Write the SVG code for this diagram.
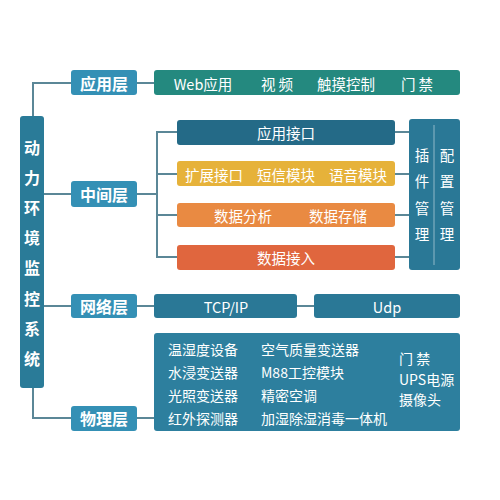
<svg xmlns="http://www.w3.org/2000/svg" width="500" height="500" viewBox="0 0 500 500">
<style>
.t{font-family:"Noto Sans CJK SC","Liberation Sans",sans-serif;fill:#fff;text-anchor:middle;dominant-baseline:central}
.lab{font-size:16px;font-weight:bold}
.m{font-size:14.5px}
.s{font-size:14px;text-anchor:start}
.ln{stroke:#5b8797;stroke-width:2;fill:none}
.layer{fill:#3490b5}
.dark{fill:#2a7896}
</style>
<rect width="500" height="500" fill="#fff"/>
<g id="connectors">
<polyline class="ln" points="33,116 33,83 71,83"/>
<line class="ln" x1="137" y1="83" x2="154" y2="83"/>
<line class="ln" x1="44" y1="194" x2="71" y2="194"/>
<line class="ln" x1="137" y1="194" x2="157" y2="194"/>
<polyline class="ln" points="177,132 157,132 157,257 177,257"/>
<line class="ln" x1="157" y1="174" x2="177" y2="174"/>
<line class="ln" x1="157" y1="215" x2="177" y2="215"/>
<line class="ln" x1="395" y1="132" x2="409" y2="132"/>
<line class="ln" x1="395" y1="174" x2="409" y2="174"/>
<line class="ln" x1="395" y1="215" x2="409" y2="215"/>
<line class="ln" x1="395" y1="257" x2="409" y2="257"/>
<line class="ln" x1="44" y1="306" x2="71" y2="306"/>
<line class="ln" x1="137" y1="306" x2="154" y2="306"/>
<line class="ln" x1="297" y1="306" x2="314" y2="306"/>
<polyline class="ln" points="33,388 33,418 71,418"/>
<line class="ln" x1="137" y1="418" x2="154" y2="418"/>
</g>
<g id="root">
<rect x="20" y="116" width="24" height="272" rx="3" fill="#2a7b98"/>
<text class="t lab" font-size="17" x="32" y="147">动</text>
<text class="t lab" x="32" y="177">力</text>
<text class="t lab" x="32" y="207">环</text>
<text class="t lab" x="32" y="237">境</text>
<text class="t lab" x="32" y="267">监</text>
<text class="t lab" x="32" y="298">控</text>
<text class="t lab" x="32" y="328">系</text>
<text class="t lab" x="32" y="358">统</text>
</g>
<g id="app-layer">
<rect class="layer" x="71" y="70" width="66" height="25" rx="3"/>
<text class="t lab" x="104" y="83">应用层</text>
</g>
<g id="app-row">
<rect x="154" y="70" width="306" height="25" rx="3" fill="#24897f"/>
<text class="t m" x="203" y="83">Web应用</text>
<text class="t m" x="277" y="83">视 频</text>
<text class="t m" x="346" y="83">触摸控制</text>
<text class="t m" x="417" y="83">门 禁</text>
</g>
<g id="mid-layer">
<rect class="layer" x="71" y="181" width="66" height="26" rx="3"/>
<text class="t lab" x="104" y="194">中间层</text>
</g>
<g id="api">
<rect x="177" y="120" width="218" height="25" rx="3" fill="#246a87"/>
<text class="t m" x="286" y="132">应用接口</text>
</g>
<g id="ext">
<rect x="177" y="161" width="218" height="25" rx="3" fill="#e6b23a"/>
<text class="t m" x="214" y="174">扩展接口</text>
<text class="t m" x="286" y="174">短信模块</text>
<text class="t m" x="358" y="174">语音模块</text>
</g>
<g id="data">
<rect x="177" y="203" width="218" height="24" rx="3" fill="#e98a42"/>
<text class="t m" x="243" y="215">数据分析</text>
<text class="t m" x="338" y="215">数据存储</text>
</g>
<g id="access">
<rect x="177" y="245" width="218" height="25" rx="3" fill="#e0663e"/>
<text class="t m" x="286" y="257">数据接入</text>
</g>
<g id="mgmt">
<rect class="dark" x="409" y="119" width="51" height="151" rx="3"/>
<line x1="434" y1="125" x2="434" y2="265" stroke="#8fb8c8" stroke-width="1"/>
<text class="t m" x="422" y="154">插</text>
<text class="t m" x="422" y="180">件</text>
<text class="t m" x="422" y="207">管</text>
<text class="t m" x="422" y="233">理</text>
<text class="t m" x="447" y="154">配</text>
<text class="t m" x="447" y="180">置</text>
<text class="t m" x="447" y="207">管</text>
<text class="t m" x="447" y="233">理</text>
</g>
<g id="net-layer">
<rect class="layer" x="71" y="294" width="66" height="24" rx="3"/>
<text class="t lab" x="104" y="306">网络层</text>
</g>
<g id="tcp">
<rect class="dark" x="154" y="294" width="143" height="24" rx="3"/>
<text class="t m" font-size="16" x="226" y="306">TCP/IP</text>
</g>
<g id="udp">
<rect class="dark" x="314" y="294" width="146" height="24" rx="3"/>
<text class="t m" font-size="16" x="387" y="306">Udp</text>
</g>
<g id="phy-layer">
<rect class="layer" x="71" y="406" width="66" height="25" rx="3"/>
<text class="t lab" x="104" y="418">物理层</text>
</g>
<g id="devices">
<rect x="154" y="333" width="306" height="98" rx="3" fill="#2d7f9e"/>
<text class="t s" x="168" y="349">温湿度设备</text>
<text class="t s" x="168" y="372">水浸变送器</text>
<text class="t s" x="168" y="395">光照变送器</text>
<text class="t s" x="168" y="418">红外探测器</text>
<text class="t s" x="261" y="349">空气质量变送器</text>
<text class="t s" x="261" y="372">M88工控模块</text>
<text class="t s" x="261" y="395">精密空调</text>
<text class="t s" x="261" y="418">加湿除湿消毒一体机</text>
<text class="t s" x="399" y="358">门 禁</text>
<text class="t s" x="399" y="379">UPS电源</text>
<text class="t s" x="399" y="399">摄像头</text>
</g>
</svg>
